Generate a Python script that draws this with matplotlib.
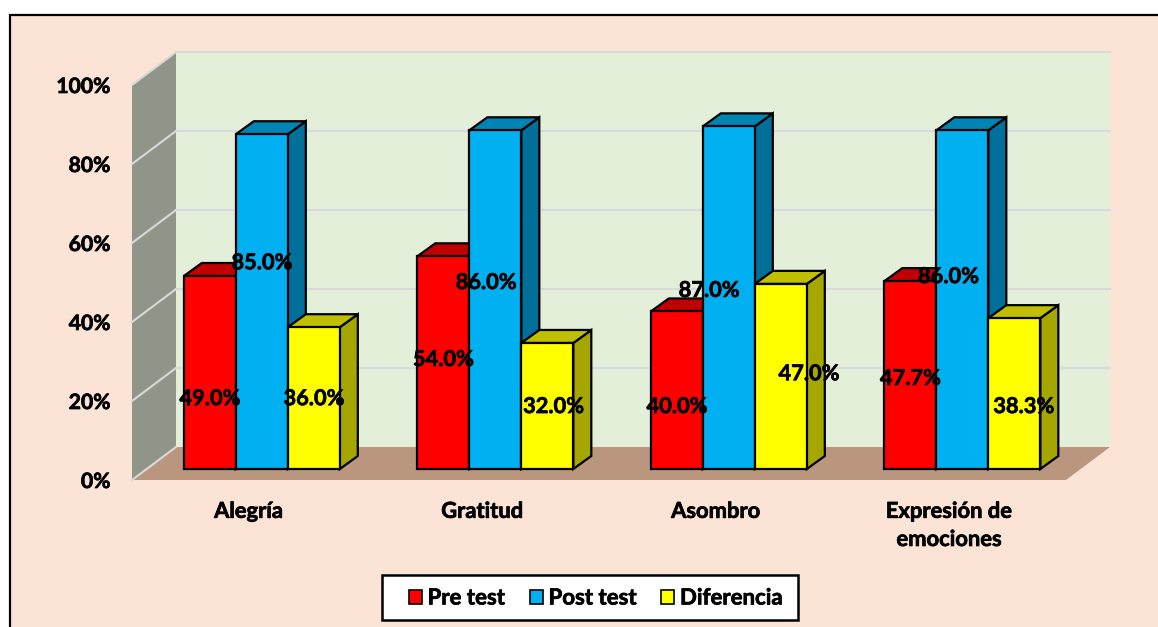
import matplotlib
matplotlib.use('Agg')
import matplotlib.pyplot as plt
import matplotlib.patheffects as pe
from matplotlib.patches import Polygon, Rectangle, Patch

plt.rcParams['font.family'] = ['Lato', 'DejaVu Sans']
plt.rcParams['font.weight'] = 'bold'

categorias = ['Alegría', 'Gratitud', 'Asombro', 'Expresión de\nemociones']
pre_test = [49.0, 54.0, 40.0, 47.7]
post_test = [85.0, 86.0, 87.0, 86.0]
diferencia = [36.0, 32.0, 47.0, 38.3]
etiquetas = ['Pre test', 'Post test', 'Diferencia']
yticks = [0, 20, 40, 60, 80, 100]

# hand placed data labels in the original, (x shift, height on the axis)
label_dx = [[0, 0, 0, 0], [0, -0.04, -0.085, -0.06], [0, 0.026, 0.12, 0.04]]
label_y = [[20.6, 30.5, 18.6, 25.7], [55.0, 50.0, 48.0, 51.5], [20.6, 18.6, 26.9, 18.6]]

# front, top, side
COLORS = [('#FF0000', '#C00000', '#A00000'),
          ('#00B0F0', '#0084B4', '#006F9A'),
          ('#FFFF00', '#BFBF00', '#A6A600')]

W, H = 1158, 627
WALL_X, WALL_Y = 0.1884, 8.35
BAR_W = 0.2227
BAR_DX, BAR_DY = 0.056, 2.78
TOP_X, TOP_Y = 0.077, 3.3
BAR_SCALE = 0.997  # bars stand a bit behind the front plane, so they come out shorter
HEAVY = [pe.withStroke(linewidth=0.5, foreground='black')]

fig = plt.figure(figsize=(W / 100, H / 100), dpi=100, facecolor='white')
fig.patches.append(Rectangle((9.5 / W, -0.05), 1.1, 1.05 - 14.5 / H, transform=fig.transFigure,
                             facecolor='#FBE4D5', edgecolor='black', linewidth=1.6, figure=fig, zorder=-1))

ax = fig.add_axes([132 / W, (H - 480) / H, 934 / W, 395 / H])
ax.patch.set_visible(False)
ax.set_xlim(0, 4)
ax.set_ylim(0, 100)
for s in ax.spines.values():
    s.set_visible(False)


def poly(points, color, edge='none', lw=0, z=1):
    ax.add_patch(Polygon(points, closed=True, facecolor=color, edgecolor=edge, linewidth=lw,
                         zorder=z, clip_on=False, joinstyle='miter'))


# walls and floor
poly([(WALL_X, WALL_Y), (4 + WALL_X, WALL_Y), (4 + WALL_X, 100 + WALL_Y), (WALL_X, 100 + WALL_Y)], '#E3EFD9')
poly([(0, 0), (WALL_X, WALL_Y), (WALL_X, 100 + WALL_Y), (0, 100)], '#8F9689')
poly([(0, 0), (4, 0), (4 + WALL_X, WALL_Y), (WALL_X, WALL_Y)], '#BA967F')

for v in yticks:
    ax.plot([0, WALL_X], [v, v + WALL_Y], color='#D9D9D9', lw=1.5, zorder=2, clip_on=False)
    if v > 0:
        ax.plot([WALL_X, 4 + WALL_X], [v + WALL_Y] * 2, color='#D9D9D9', lw=1.5, zorder=2, clip_on=False)

series = [pre_test, post_test, diferencia]
for i in range(len(categorias)):
    for j, valores in enumerate(series):
        v = valores[i] * BAR_SCALE
        left = i + 0.5 + BAR_DX + (j - 1.5) * BAR_W
        right = left + BAR_W
        base = BAR_DY
        front, top, side = COLORS[j]
        z = 3 + j
        poly([(right, base + v), (right + TOP_X, base + v + TOP_Y), (right + TOP_X, base + TOP_Y), (right, base)],
             side, 'black', 1.6, z)
        poly([(left, base + v), (right, base + v), (right + TOP_X, base + v + TOP_Y), (left + TOP_X, base + v + TOP_Y)],
             top, 'black', 1.6, z)
        poly([(left, base), (right, base), (right, base + v), (left, base + v)], front, 'black', 1.6, z)

for j, valores in enumerate(series):
    for i, v in enumerate(valores):
        cx = i + 0.5 + BAR_DX + (j - 1) * BAR_W + label_dx[j][i]
        ax.text(cx, label_y[j][i], f'{v:.1f}%', ha='center', va='center', fontsize=15.7, fontweight='bold',
                color='black', zorder=10, clip_on=False, path_effects=HEAVY)

ax.set_yticks(yticks)
ax.set_yticklabels([f'{v}%' for v in yticks], fontsize=15.2, fontweight='bold', path_effects=HEAVY)
ax.set_xticks([i + 0.5 for i in range(len(categorias))])
ax.set_xticklabels(categorias, fontsize=15.8, fontweight='bold', linespacing=1.42, path_effects=HEAVY)
ax.tick_params(axis='y', length=0, pad=15.5)
ax.tick_params(axis='x', length=0, pad=15)

# legend box is wider than its padding would give, so it is drawn apart
fig.patches.append(Rectangle((382 / W, (H - 620) / H), 416 / W, 45 / H, transform=fig.transFigure,
                             facecolor='white', edgecolor='black', linewidth=1.8, figure=fig, zorder=4))
handles = [Patch(facecolor=c[0], edgecolor='black', linewidth=1.2) for c in COLORS]
leg = fig.legend(handles, etiquetas, loc='center', bbox_to_anchor=(596 / W, (H - 598) / H), ncols=3,
                 frameon=False, fontsize=16, handlelength=0.6, handleheight=0.6, handletextpad=0.25,
                 columnspacing=1.09, borderpad=0, borderaxespad=0)
for t in leg.get_texts():
    t.set_path_effects(HEAVY)

fig.savefig('out.png', dpi=100, facecolor=fig.get_facecolor())
